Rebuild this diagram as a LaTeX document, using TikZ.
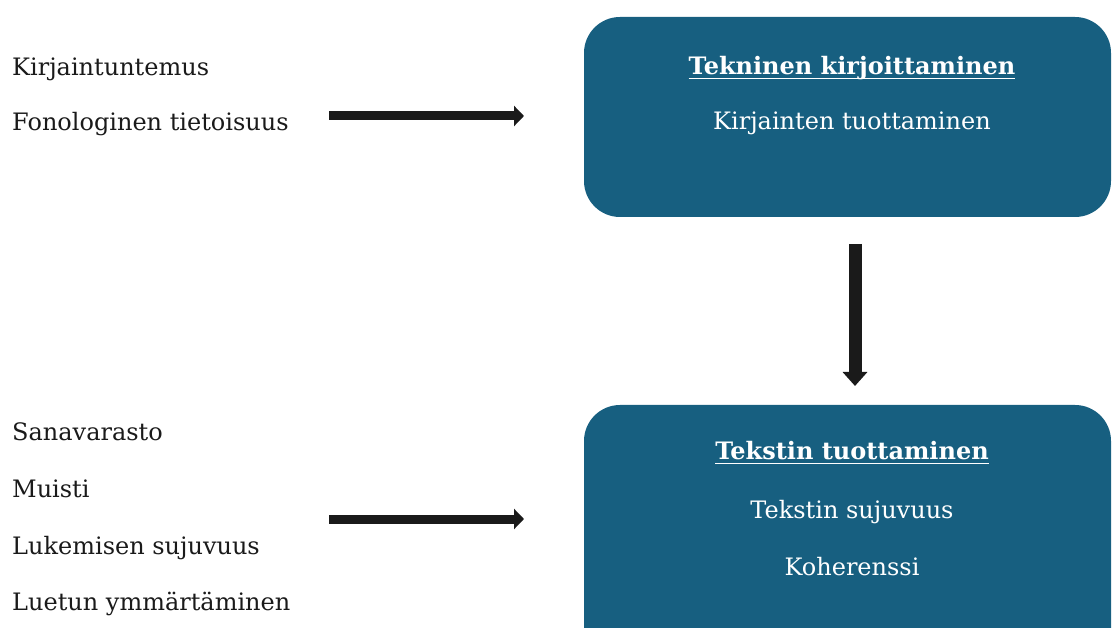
\documentclass[tikz,border=0pt]{standalone}
\usepackage{fontspec}
\setmainfont{DejaVu Serif}
\usetikzlibrary{arrows.meta}
\definecolor{boxblue}{RGB}{23,95,128}
\definecolor{ink}{RGB}{26,26,26}
\newcommand\myul[1]{\setbox0\hbox{#1}\rlap{\rule[-4pt]{\wd0}{1.3pt}}\box0}
\tikzset{
  lefttext/.style={anchor=base west, inner sep=0pt, text=ink, font=\fontsize{24}{28}\selectfont},
  boxtext/.style={anchor=base, inner sep=0pt, text=white, font=\fontsize{24}{28}\selectfont},
  panel/.style={fill=boxblue, draw=none, rounded corners=36pt, minimum width=527pt, inner sep=0pt},
  flow/.style={draw=ink, line width=9pt, -{Triangle[length=10pt,width=20pt]}},
  flowv/.style={draw=ink, line width=13pt, -{Triangle[length=14pt,width=24pt]}}
}
\begin{document}
\begin{tikzpicture}[x=1pt,y=-1pt]
\useasboundingbox (0,0) rectangle (1112,628);
\clip (0,0) rectangle (1112,628);
% panels
\node[panel, minimum height=200pt] (top) at (847.5,117) {};
\node[panel, minimum height=260pt] (bot) at (847.5,535) {};
% left texts
\node[lefttext] (k1) at (12,76) {Kirjaintuntemus};
\node[lefttext] (k2) at (12,131) {Fonologinen tietoisuus};
\node[lefttext] (s1) at (12,440) {Sanavarasto};
\node[lefttext] (s2) at (12,497) {Muisti};
\node[lefttext] (s3) at (12,554) {Lukemisen sujuvuus};
\node[lefttext] (s4) at (12,610) {Luetun ymmärtäminen};
% box texts
\node[boxtext] (t1) at (852,75) {\bfseries\myul{Tekninen kirjoittaminen}};
\node[boxtext] (t2) at (852,130) {Kirjainten tuottaminen};
\node[boxtext] (b1) at (852,460) {\bfseries\myul{Tekstin tuottaminen}};
\node[boxtext] (b2) at (852,518) {Tekstin sujuvuus};
\node[boxtext] (b3) at (852,575) {Koherenssi};
% arrows
\coordinate (a1s) at (329,116);
\coordinate (a1e) at (524,116);
\coordinate (a2s) at (329,519);
\coordinate (a2e) at (524,519);
\coordinate (a3s) at (855,244);
\coordinate (a3e) at (855,386);
\draw[flow] (a1s) -- (a1e);
\draw[flow] (a2s) -- (a2e);
\draw[flowv] (a3s) -- (a3e);
\end{tikzpicture}
\end{document}
